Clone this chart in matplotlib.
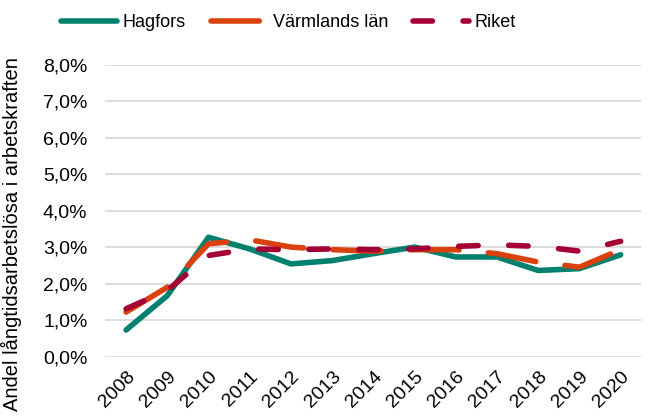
import matplotlib.pyplot as plt
from matplotlib.ticker import FuncFormatter

plt.rcParams['font.family'] = ['Liberation Sans', 'DejaVu Sans']

years = [str(y) for y in range(2008, 2021)]
hagfors = [0.74, 1.68, 3.28, 2.96, 2.55, 2.64, 2.83, 3.01, 2.74, 2.74, 2.37, 2.42, 2.80]
varmland = [1.23, 1.91, 3.10, 3.21, 3.01, 2.94, 2.90, 2.94, 2.94, 2.83, 2.60, 2.46, 2.94]
riket = [1.32, 1.82, 2.78, 2.96, 2.94, 2.96, 2.94, 2.96, 3.03, 3.07, 3.03, 2.90, 3.17]

fig, ax = plt.subplots(figsize=(6.51, 4.19), dpi=100)
fig.subplots_adjust(left=0.162, right=0.985, top=0.845, bottom=0.148)

x = range(len(years))
ax.plot(x, hagfors, color='#00806E', lw=4, solid_capstyle='round', label='Hagfors')
ax.plot(x, varmland, color='#D9410E', lw=4, dashes=(8.7, 5.3), dash_capstyle='round', label='Värmlands län')
ax.plot(x, riket, color='#A50034', lw=4, dashes=(3.5, 5.5), dash_capstyle='round', label='Riket')

ax.set_ylim(0, 8)
ax.set_yticks([i for i in range(9)])
ax.yaxis.set_major_formatter(FuncFormatter(lambda v, p: f'{v:.1f}%'.replace('.', ',')))
ax.set_xlim(-0.5, len(years) - 0.5)
ax.set_xticks(list(x))
ax.set_xticklabels(years, rotation=45, ha='right', rotation_mode='anchor')
ax.tick_params(axis='y', length=0, labelsize=14, colors='black', pad=13)
ax.tick_params(axis='x', length=0, labelsize=14, colors='black', pad=8)
ax.grid(axis='y', color='#D9D9D9', lw=1.3)
ax.set_axisbelow(True)
for s in ax.spines.values():
    s.set_visible(False)
ax.set_ylabel('Andel långtidsarbetslösa i arbetskraften', fontsize=14.5)
ax.yaxis.set_label_coords(-0.156, 0.42)

ax.legend(loc='lower center', bbox_to_anchor=(0.342, 1.06), ncol=3, frameon=False,
          fontsize=13, handlelength=3.1, columnspacing=1.4, handletextpad=0.3)

plt.savefig('out.png', dpi=100)
